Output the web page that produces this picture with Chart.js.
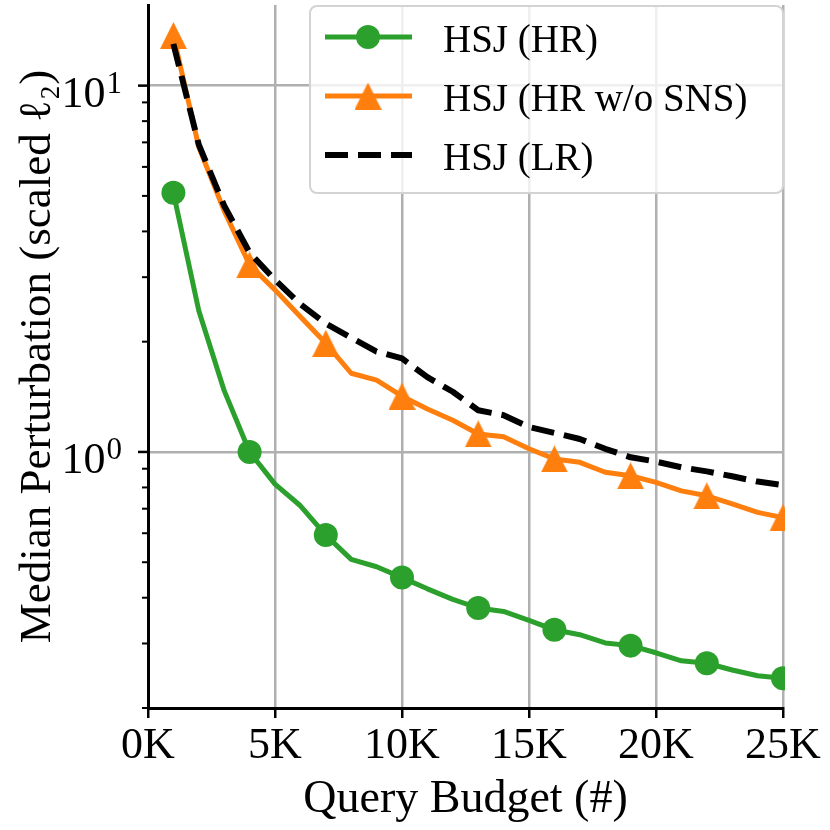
<!DOCTYPE html>
<html>
<head>
<meta charset="utf-8">
<script src="https://cdn.jsdelivr.net/npm/chart.js@4.4.1/dist/chart.umd.min.js"></script>
<style>
  body { margin: 0; background: #fff; }
  #chart { display: block; }
</style>
</head>
<body>
<canvas id="chart" width="830" height="830"></canvas>
<script>
// valeurs
const queries = [1000, 2000, 3000, 4000, 5000, 6000, 7000, 8000, 9000, 10000, 11000, 12000, 13000,
  14000, 15000, 16000, 17000, 18000, 19000, 20000, 21000, 22000, 23000, 24000, 25000];
const hsjHR = [5.1, 2.43, 1.47, 1.0, 0.817, 0.713, 0.593, 0.509, 0.486, 0.454, 0.423, 0.396, 0.375,
  0.367, 0.347, 0.327, 0.317, 0.301, 0.296, 0.283, 0.269, 0.265, 0.254, 0.245, 0.241];
const hsjHRnoSNS = [13.7, 6.8, 4.55, 3.24, 2.77, 2.34, 1.98, 1.64, 1.57, 1.42, 1.31, 1.22, 1.12,
  1.1, 1.02, 0.957, 0.937, 0.88, 0.861, 0.826, 0.783, 0.759, 0.721, 0.684, 0.662];
const hsjLR = [13.0, 6.9, 4.7, 3.5, 2.95, 2.53, 2.24, 2.05, 1.88, 1.8, 1.6, 1.46, 1.3,
  1.26, 1.17, 1.127, 1.085, 1.02, 0.967, 0.941, 0.908, 0.885, 0.858, 0.83, 0.812];
const xTicks = [0, 5000, 10000, 15000, 20000, 25000];
const yTicks = [0.2, 0.3, 0.4, 0.5, 0.6, 0.7, 0.8, 0.9, 1, 2, 3, 4, 5, 6, 7, 8, 9, 10];
const yMajor = [1, 10];

const FONT = '"Liberation Serif", "Times New Roman", serif';
const GREEN = '#2ca02c', ORANGE = '#ff7f0e';

// marqueur triangle centré comme dans matplotlib
function makeTriangle(color, size) {
  const c = document.createElement('canvas');
  c.width = size; c.height = size;
  const g = c.getContext('2d');
  g.fillStyle = color;
  g.beginPath();
  g.moveTo(size / 2, 0);
  g.lineTo(size, size);
  g.lineTo(0, size);
  g.closePath();
  g.fill();
  return c;
}
const triangle = makeTriangle(ORANGE, 27);

const every3 = (r) => (c) => (c.dataIndex % 3 === 0 ? r : 0);
const toXY = (arr) => arr.map((v, i) => ({ x: queries[i], y: v }));

// ticks + labels 10^n de l'axe y, puis la légende
const extras = {
  id: 'extras',
  afterDraw(chart) {
    const ctx = chart.ctx;
    const ys = chart.scales.y;
    ctx.save();
    ctx.strokeStyle = '#000';
    yTicks.forEach((v) => {
      const py = ys.getPixelForValue(v);
      const major = yMajor.includes(v);
      ctx.lineWidth = major ? 2.5 : 2;
      ctx.beginPath();
      ctx.moveTo(ys.right - (major ? 10 : 6), py);
      ctx.lineTo(ys.right, py);
      ctx.stroke();
    });
    ctx.fillStyle = '#000';
    ctx.textAlign = 'right';
    ctx.textBaseline = 'alphabetic';
    yMajor.forEach((v) => {
      const py = ys.getPixelForValue(v);
      const exp = String(Math.round(Math.log10(v)));
      const xr = ys.right - 26;
      ctx.font = '31px ' + FONT;
      ctx.fillText(exp, xr, py + 7);
      const w = ctx.measureText(exp).width;
      ctx.font = '44px ' + FONT;
      ctx.fillText('10', xr - w - 1, py + 21);
    });

    // légende
    const lx = 310, ly = 6, lw = 473, lh = 187;
    ctx.beginPath();
    ctx.roundRect(lx, ly, lw, lh, 7);
    ctx.fillStyle = 'rgba(255,255,255,0.8)';
    ctx.fill();
    ctx.strokeStyle = '#d3d3d3';
    ctx.lineWidth = 2;
    ctx.stroke();
    ctx.textAlign = 'left';
    ctx.font = '39px ' + FONT;
    chart.data.datasets.forEach((ds, i) => {
      const y = 37 + i * 59;
      ctx.strokeStyle = ds.borderColor;
      ctx.lineWidth = ds.borderWidth;
      ctx.setLineDash(ds.borderDash || []);
      ctx.lineCap = 'butt';
      ctx.beginPath();
      ctx.moveTo(325, y);
      ctx.lineTo(412, y);
      ctx.stroke();
      ctx.setLineDash([]);
      if (ds.pointStyle === 'circle') {
        ctx.fillStyle = ds.backgroundColor;
        ctx.beginPath();
        ctx.arc(368, y, 12, 0, Math.PI * 2);
        ctx.fill();
      } else if (ds.pointStyle === triangle) {
        ctx.drawImage(triangle, 368 - triangle.width / 2, y - triangle.height / 2);
      }
      ctx.fillStyle = '#000';
      ctx.fillText(ds.label, 443, y + 15);
    });
    ctx.restore();
  }
};

new Chart(document.getElementById('chart'), {
  type: 'line',
  data: {
    datasets: [
      {
        label: 'HSJ (HR)',
        data: toXY(hsjHR),
        borderColor: GREEN,
        backgroundColor: GREEN,
        borderWidth: 5,
        pointStyle: 'circle',
        pointRadius: every3(12),
        pointHoverRadius: every3(12),
        pointBorderWidth: 0,
        order: 3,
      },
      {
        label: 'HSJ (HR w/o SNS)',
        data: toXY(hsjHRnoSNS),
        borderColor: ORANGE,
        backgroundColor: ORANGE,
        borderWidth: 5,
        pointStyle: triangle,
        pointRadius: every3(13),
        pointHoverRadius: every3(13),
        order: 2,
      },
      {
        label: 'HSJ (LR)',
        data: toXY(hsjLR),
        borderColor: '#000',
        backgroundColor: '#000',
        borderWidth: 6,
        borderDash: [23, 10],
        pointRadius: 0,
        pointHoverRadius: 0,
        order: 1,
      },
    ],
  },
  options: {
    responsive: false,
    devicePixelRatio: 1,
    animation: false,
    layout: { autoPadding: false, padding: { top: 5, right: 47, bottom: 0, left: 0 } },
    elements: { line: { tension: 0, borderJoinStyle: 'round', borderCapStyle: 'butt' } },
    datasets: { line: { clip: 2 } },
    plugins: {
      legend: { display: false },
      tooltip: { enabled: false },
    },
    scales: {
      x: {
        type: 'linear',
        min: 0,
        max: 25000,
        afterBuildTicks: (s) => { s.ticks = xTicks.map((v) => ({ value: v })); },
        afterFit: (s) => { s.height = 122; },
        ticks: {
          callback: (v) => v / 1000 + 'K',
          font: { family: FONT, size: 44 },
          color: '#000',
          padding: 2,
          maxRotation: 0,
          autoSkip: false,
        },
        grid: { color: '#b0b0b0', lineWidth: 2.5, tickLength: 10, tickColor: '#000', tickWidth: 2.5 },
        border: { color: '#000', width: 3 },
        title: {
          display: true,
          text: 'Query Budget (#)',
          font: { family: FONT, size: 46 },
          color: '#000',
          padding: { top: 0, bottom: 2 },
        },
      },
      y: {
        type: 'logarithmic',
        min: 0.2,
        max: 16.6,
        afterBuildTicks: (s) => { s.ticks = yTicks.map((v) => ({ value: v })); },
        afterFit: (s) => { s.width = 148; },
        ticks: { display: false },
        grid: {
          color: (c) => (c.tick && yMajor.includes(c.tick.value) ? '#b0b0b0' : 'rgba(0,0,0,0)'),
          lineWidth: 2.5,
          drawTicks: false,
        },
        border: { color: '#000', width: 3 },
        title: {
          display: true,
          text: 'Median Perturbation (scaled ℓ₂)',
          font: { family: FONT, size: 45 },
          color: '#000',
          padding: { top: 11, bottom: 0 },
        },
      },
    },
  },
  plugins: [extras],
});
</script>
</body>
</html>
